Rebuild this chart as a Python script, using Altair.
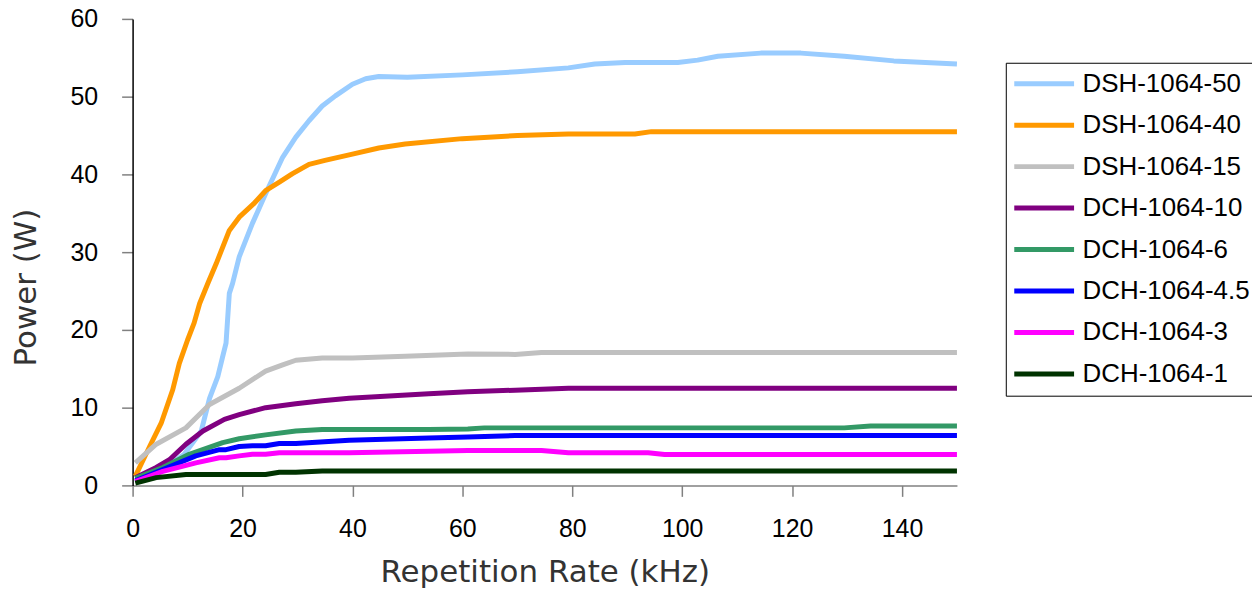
import altair as alt
import pandas as pd

SERIES = ["DSH-1064-50", "DSH-1064-40", "DSH-1064-15", "DCH-1064-10",
          "DCH-1064-6", "DCH-1064-4.5", "DCH-1064-3", "DCH-1064-1"]
COLORS = ["#99CCFF", "#FF9900", "#C0C0C0", "#800080",
          "#339966", "#0000FF", "#FF00FF", "#003300"]

X_DSH50 = [0.5, 5, 9.4, 12.5, 14, 15.5, 16.4, 17, 17.6, 18.2, 19.4, 21.8, 24.2, 27.3, 29.7,
           32.1, 34.5, 36.9, 40, 42.4, 44.8, 50, 60, 70, 79.3, 84.1, 89.6, 99.2, 102.8,
           106.5, 114.3, 121.6, 129.5, 138.5, 150]
Y_DSH50 = [0.4, 1.8, 4.0, 7.0, 11.2, 14.0, 16.6, 18.3, 24.7, 26.0, 29.4, 33.7, 37.5, 42.2, 44.8,
           46.9, 48.8, 50.1, 51.6, 52.3, 52.6, 52.5, 52.8, 53.2, 53.7, 54.2, 54.4, 54.4, 54.7,
           55.2, 55.6, 55.6, 55.2, 54.6, 54.2]

X_DSH40 = [0.5, 3.1, 5.2, 7.3, 8.5, 10, 11.2, 12.2, 13.7, 15.2, 17.6, 19.4, 22, 24.2, 26.7,
           29.1, 32.1, 35, 40, 44.8, 49.6, 60, 70, 79.3, 91.4, 94.4, 100, 150]
Y_DSH40 = [1.2, 5.0, 8.0, 12.3, 15.7, 18.7, 20.9, 23.4, 26.0, 28.5, 32.8, 34.5, 36.2, 37.9, 39.0,
           40.1, 41.3, 41.8, 42.6, 43.4, 43.9, 44.6, 45.0, 45.2, 45.2, 45.5, 45.5, 45.5]

X_DSH15 = [0.5, 4.3, 9.7, 14, 19.4, 24.2, 27.3, 29.7, 34.5, 40, 49.6, 61, 69.6, 74.4, 150]
Y_DSH15 = [2.9, 5.3, 7.4, 10.4, 12.5, 14.7, 15.5, 16.1, 16.4, 16.4, 16.6, 16.9, 16.85, 17.1, 17.1]

X_DCH10 = [0.5, 4.3, 6.7, 9.7, 12.8, 16.7, 19.4, 24.2, 29.7, 34.5, 39.4, 53.9, 61, 69.6, 79.3, 150]
Y_DCH10 = [1.0, 2.3, 3.3, 5.3, 7.0, 8.5, 9.1, 10.0, 10.5, 10.9, 11.2, 11.8, 12.05, 12.25, 12.5, 12.5]

X_DCH6 = [0.5, 5.5, 10.3, 16.4, 19.4, 24.2, 29.7, 34.5, 53.9, 61, 64, 129.5, 134.3, 150]
Y_DCH6 = [0.9, 2.3, 4.0, 5.5, 6.0, 6.5, 7.0, 7.2, 7.2, 7.26, 7.4, 7.4, 7.65, 7.65]

X_DCH45 = [0.5, 5.5, 11.5, 15.8, 17, 19.4, 21.8, 24.2, 26.7, 29.7, 39.4, 53.9, 61, 69.6, 150]
Y_DCH45 = [0.6, 2.05, 3.8, 4.6, 4.6, 5.0, 5.1, 5.1, 5.4, 5.4, 5.8, 6.1, 6.24, 6.41, 6.41]

X_DCH3 = [0.5, 5.5, 11.5, 15.8, 17, 19.4, 21.8, 24.2, 26.7, 39.4, 53.9, 61, 74.4, 79.3, 93.8,
          96.8, 150]
Y_DCH3 = [0.5, 1.8, 2.9, 3.55, 3.55, 3.8, 4.0, 4.0, 4.2, 4.2, 4.4, 4.49, 4.49, 4.19, 4.19,
          3.97, 3.97]

X_DCH1 = [0.5, 4.3, 9.7, 24.2, 26.7, 29.7, 34.5, 150]
Y_DCH1 = [0.3, 1.0, 1.4, 1.4, 1.7, 1.7, 1.84, 1.84]

X_TICKS = [0, 20, 40, 60, 80, 100, 120, 140]
Y_TICKS = [0, 10, 20, 30, 40, 50, 60]

XS = [X_DSH50, X_DSH40, X_DSH15, X_DCH10, X_DCH6, X_DCH45, X_DCH3, X_DCH1]
YS = [Y_DSH50, Y_DSH40, Y_DSH15, Y_DCH10, Y_DCH6, Y_DCH45, Y_DCH3, Y_DCH1]

rows = []
for si, (name, xs, ys) in enumerate(zip(SERIES, XS, YS)):
    for i, (x, y) in enumerate(zip(xs, ys)):
        rows.append({"series": name, "order": si, "idx": i, "rate": x, "power": y})
df = pd.DataFrame(rows)

chart = alt.Chart(df).mark_line(strokeWidth=5, strokeJoin="round", strokeCap="butt").encode(
    x=alt.X("rate:Q",
            scale=alt.Scale(domain=[0, 150], nice=False, zero=False),
            axis=alt.Axis(values=X_TICKS, grid=False, tickSize=11, tickColor="#808080",
                          tickWidth=1.5, domainColor="#808080", domainWidth=1.5,
                          labelFont="Liberation Sans", labelFontSize=25, labelColor="#000000",
                          labelBaseline="alphabetic", labelPadding=40, labelFlush=False,
                          title="Repetition Rate (kHz)", titleFont="DejaVu Sans",
                          titleFontSize=31, titleFontWeight="normal", titleColor="#333333",
                          titleBaseline="alphabetic", titleY=96)),
    y=alt.Y("power:Q",
            scale=alt.Scale(domain=[0, 60], nice=False),
            axis=alt.Axis(values=Y_TICKS, grid=False, tickSize=11, tickColor="#808080",
                          tickWidth=1.5, domainColor="#000000", domainWidth=1.5,
                          labelFont="Liberation Sans", labelFontSize=25, labelColor="#000000",
                          labelPadding=24, labelFlush=False,
                          title="Power (W)", titleFont="DejaVu Sans", titleFontSize=31,
                          titleFontWeight="normal", titleColor="#333333",
                          titleAngle=270, titleAlign="center", titleBaseline="middle",
                          titleX=-106, titleY=269)),
    color=alt.Color("series:N",
                    scale=alt.Scale(domain=SERIES, range=COLORS),
                    sort=SERIES,
                    title=None,
                    legend=alt.Legend(orient="none", legendX=876, legendY=44,
                                      padding=6, strokeColor="#000000", fillColor="#FFFFFF",
                                      symbolType="stroke", symbolSize=3600,
                                      symbolStrokeWidth=5, clipHeight=30, rowPadding=11.6,
                                      labelFont="Liberation Sans", labelFontSize=26,
                                      labelColor="#000000", labelOffset=6, labelLimit=400)),
    detail=alt.Detail("order:O"),
    order=alt.Order("idx:Q"),
).properties(
    width=827,
    height=468,
    autosize=alt.AutoSizeParams(type="none"),
    padding={"left": 125, "top": 10, "right": 296, "bottom": 106},
).configure_view(stroke=None)

chart.save("out.html", embed_options={"renderer": "svg", "actions": False})
